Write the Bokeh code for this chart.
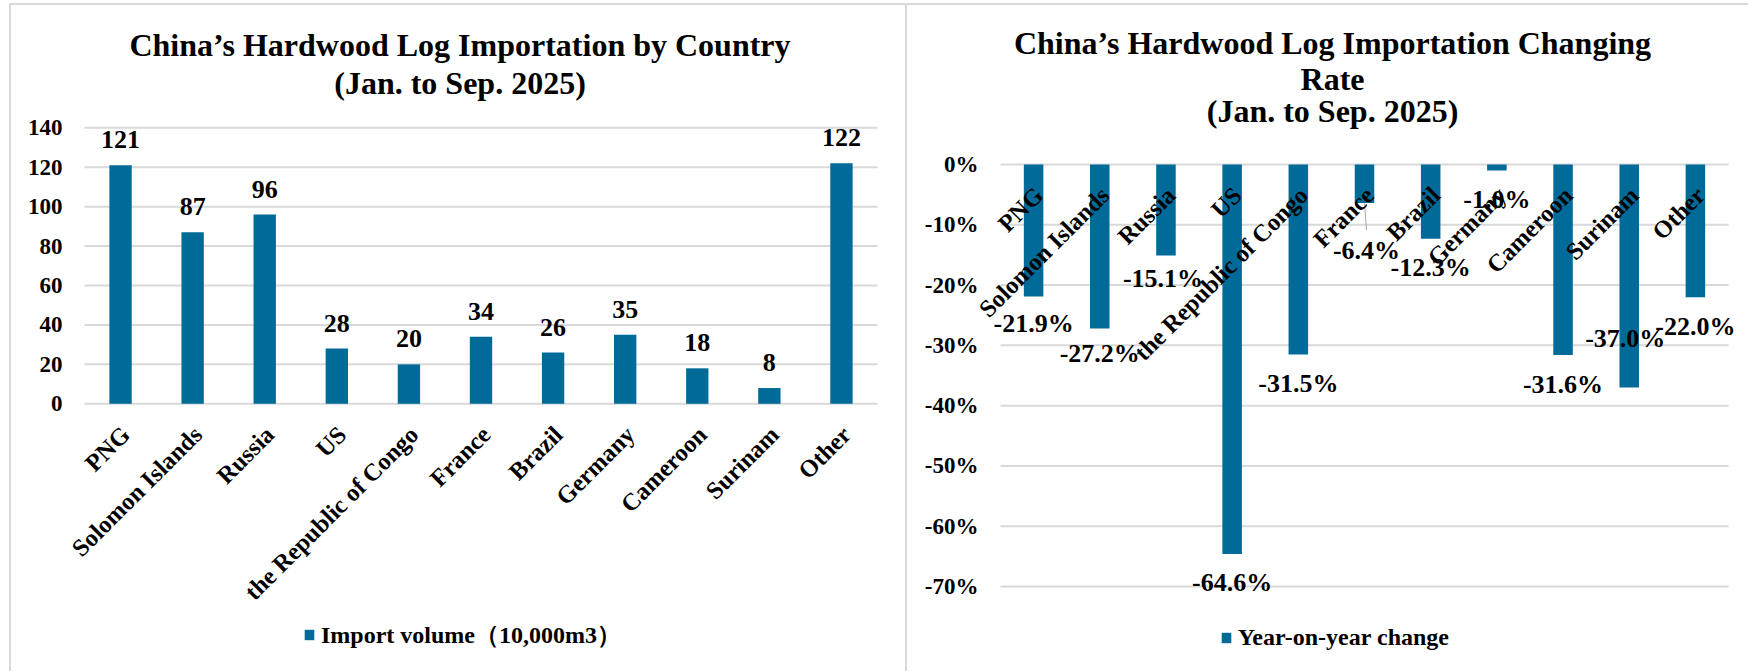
from math import pi
from bokeh.plotting import figure
from bokeh.models import ColumnDataSource, Range1d, LabelSet, Label, Div
from bokeh.layouts import row, column
from bokeh.embed import file_html
from bokeh.resources import INLINE
from bokeh.core.properties import value

# ---------------- data ----------------
countries = ["PNG", "Solomon Islands", "Russia", "US", "the Republic of Congo",
             "France", "Brazil", "Germany", "Cameroon", "Surinam", "Other"]
import_volume = [121, 87, 96, 28, 20, 34, 26, 35, 18, 8, 122]
yoy_change = [-21.9, -27.2, -15.1, -64.6, -31.5, -6.4, -12.3, -1.0, -31.6, -37.0, -22.0]
volume_ticks = [0, 20, 40, 60, 80, 100, 120, 140]
change_ticks = [0, -10, -20, -30, -40, -50, -60, -70]

title_left = ["China\u2019s Hardwood Log Importation by Country", "(Jan. to Sep. 2025)"]
title_right = ["China\u2019s Hardwood Log Importation Changing", "Rate", "(Jan. to Sep. 2025)"]
legend_left = "Import volume\uff0810,000m3\uff09"
legend_right = "Year-on-year change"

# ---------------- style / layout (page pixels) ----------------
FONT = "Liberation Serif"
BAR = "#006B99"
GRID = "#D9D9D9"
BORDER = "#D9D9D9"
TOP = 5          # figures start below the top border line
FIG_H = 666
# manual label nudges (pixels) on the change chart, relative to the default place
label_nudge = {"PNG": (0, 2), "Solomon Islands": (0, 4), "Russia": (-3, 6),
               "France": (2, -18), "Surinam": (-4, 78)}

N = len(countries)
xpos = [i + 0.5 for i in range(N)]


def make_map(ax_left, ax_right, val_a, px_a, val_b, px_b):
    """page-pixel -> data mapping for a figure whose frame is the whole canvas"""
    sx = (ax_right - ax_left) / N
    sy = (px_a - px_b) / (val_b - val_a)

    def X(px):
        return (px - ax_left) / sx

    def Y(py):
        return val_a + (px_a - py) / sy
    return X, Y, sx, sy


def make_fig(width, X, Y, fig_left):
    p = figure(width=width, height=FIG_H,
               x_range=Range1d(X(fig_left), X(fig_left + width)),
               y_range=Range1d(Y(TOP + FIG_H), Y(TOP)),
               title=None, output_backend="svg", toolbar_location=None, min_border=0)
    p.outline_line_color = None
    p.xaxis.visible = False
    p.yaxis.visible = False
    p.xgrid.visible = False
    p.ygrid.visible = False
    return p


def add_grid(p, ticks, labels):
    p.segment(x0=[0] * len(ticks), x1=[N] * len(ticks), y0=ticks, y1=ticks,
              line_color=GRID, line_width=2)
    src = ColumnDataSource(dict(y=ticks, t=labels))
    p.add_layout(LabelSet(x=0, y="y", text="t", source=src, x_offset=-22,
                          text_align="right", text_baseline="middle",
                          text_font=value(FONT), text_font_style="bold",
                          text_font_size="23px", text_color="black"))


def add_title(p, lines, X, Y, cx, centers):
    for line, c in zip(lines, centers):
        p.add_layout(Label(x=X(cx), y=Y(c), text=line,
                           text_font=FONT, text_font_style="bold", text_font_size="32px",
                           text_align="center", text_baseline="middle",
                           text_color="black"))


def add_cat_labels(p, src):
    p.add_layout(LabelSet(x="x", y=0, text="cat", source=src, angle=pi / 4,
                          text_align="right", text_baseline="middle",
                          x_offset=5, y_offset=-26.5,
                          text_font=value(FONT), text_font_style="bold",
                          text_font_size="24.5px", text_color="black"))


def style_legend(p, loc):
    lg = p.legend[0]
    lg.location = loc
    lg.margin = 0
    lg.padding = 0
    lg.spacing = 0
    lg.border_line_color = None
    lg.background_fill_alpha = 0
    lg.glyph_width = 12
    lg.glyph_height = 13
    lg.label_standoff = 6
    lg.label_text_font = FONT
    lg.label_text_font_style = "bold"
    lg.label_text_font_size = "24px"
    lg.label_text_color = "black"


# ---------------- left chart ----------------
L_LEFT, L_W = 11, 894
XL, YL, sxl, syl = make_map(84, 877, 0, 403.3, 140, 127.3)
p1 = make_fig(L_W, XL, YL, L_LEFT)
add_grid(p1, volume_ticks, [str(t) for t in volume_ticks])
src1 = ColumnDataSource(dict(x=xpos, cat=countries, val=import_volume,
                             lbl=[f"{v:g}" for v in import_volume]))
p1.vbar(x="x", top="val", bottom=0, width=0.31, source=src1, fill_color=BAR,
        line_color=None, legend_label=legend_left)
p1.add_layout(LabelSet(x="x", y="val", text="lbl", source=src1, y_offset=25.5,
                       text_align="center", text_baseline="middle",
                       text_font=value(FONT), text_font_style="bold",
                       text_font_size="26px", text_color="black"))
add_cat_labels(p1, src1)
add_title(p1, title_left, XL, YL, 459.5, [44.7, 82])
style_legend(p1, (303 - L_LEFT, TOP + FIG_H - 650.5))

# ---------------- right chart ----------------
R_LEFT, R_W = 907, 841
XR, YR, sxr, syr = make_map(1000, 1728, 0, 164, -70, 586)
p2 = make_fig(R_W, XR, YR, R_LEFT)
add_grid(p2, change_ticks, [f"{t}%" for t in change_ticks])
dx = [label_nudge.get(c, (0, 0))[0] for c in countries]
dy = [-29 + label_nudge.get(c, (0, 0))[1] for c in countries]
src2 = ColumnDataSource(dict(x=xpos, cat=countries, val=yoy_change,
                             lbl=[f"{v:.1f}%" for v in yoy_change], dx=dx, dy=dy))
p2.vbar(x="x", top=0, bottom="val", width=0.295, source=src2, fill_color=BAR,
        line_color=None, legend_label=legend_right)

# leader line for the moved France label
fi = countries.index("France")
p2.segment(x0=[xpos[fi]], y0=[yoy_change[fi]], x1=[xpos[fi] + 2 / sxr],
           y1=[yoy_change[fi] - 27 / syr], line_color="#A6A6A6", line_width=1)

add_cat_labels(p2, src2)
p2.add_layout(LabelSet(x="x", y="val", text="lbl", source=src2,
                       x_offset="dx", y_offset="dy",
                       text_align="center", text_baseline="middle",
                       text_font=value(FONT), text_font_style="bold",
                       text_font_size="26px", text_color="black"))
add_title(p2, title_right, XR, YR, 1332, [42.5, 78.3, 110.8])
style_legend(p2, (1219.7 - R_LEFT, TOP + FIG_H - 650.5))


def box(w, h, color=None):
    styles = {"background-color": color} if color else {}
    return Div(text="", width=w, height=h, margin=0, styles=styles)


layout = column(
    box(1748, 3),
    row(box(9, 2), box(1739, 2, BORDER), spacing=0),
    row(box(9, FIG_H), box(2, FIG_H, BORDER), p1, box(2, FIG_H, BORDER), p2, spacing=0),
    spacing=0)

open("out.html", "w").write(file_html(layout, INLINE))
